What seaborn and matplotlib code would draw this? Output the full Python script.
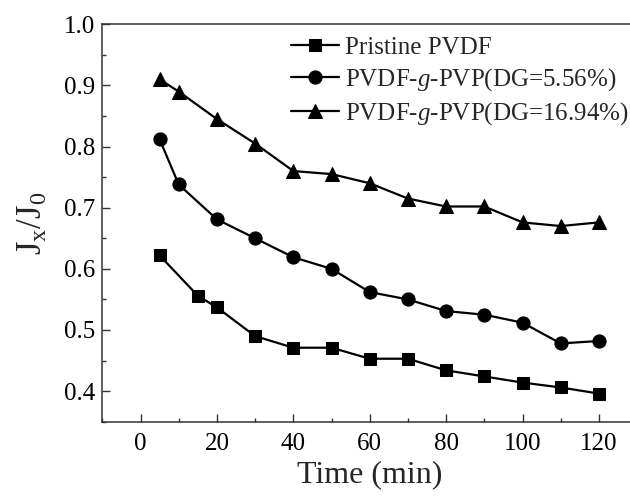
import matplotlib
matplotlib.use("Agg")
import matplotlib.pyplot as plt
import seaborn as sns
import pandas as pd
from matplotlib.ticker import MultipleLocator

# Data
time_pristine = [5, 15, 20, 30, 40, 50, 60, 70, 80, 90, 100, 110, 120]
jx_pristine = [0.622, 0.556, 0.537, 0.490, 0.471, 0.471, 0.453, 0.453, 0.434, 0.424, 0.414, 0.406, 0.396]
time_dg556 = [5, 10, 20, 30, 40, 50, 60, 70, 80, 90, 100, 110, 120]
jx_dg556 = [0.812, 0.738, 0.681, 0.650, 0.619, 0.600, 0.562, 0.550, 0.531, 0.525, 0.512, 0.478, 0.482]
time_dg1694 = [5, 10, 20, 30, 40, 50, 60, 70, 80, 90, 100, 110, 120]
jx_dg1694 = [0.910, 0.890, 0.845, 0.805, 0.760, 0.755, 0.740, 0.715, 0.702, 0.702, 0.676, 0.670, 0.676]
series_labels = ["Pristine PVDF", "PVDF-$g$-PVP(DG=5.56%)", "PVDF-$g$-PVP(DG=16.94%)"]

sns.set_theme(style="ticks")
plt.rcParams['font.family'] = ['Liberation Serif', 'DejaVu Serif']
plt.rcParams['mathtext.fontset'] = 'custom'
plt.rcParams['mathtext.rm'] = 'Liberation Serif'
plt.rcParams['mathtext.it'] = 'Liberation Serif:italic'

fig = plt.figure(figsize=(6.3, 4.98), dpi=100)
ax = fig.add_axes([102.3 / 630, 76.3 / 498, 534.8 / 630, 397.4 / 498])

specs = [
    (time_pristine, jx_pristine, 's', 8.6),
    (time_dg556, jx_dg556, 'o', 9.5),
    (time_dg1694, jx_dg1694, '^', 10),
]
for (t, v, m, ms), lab in zip(specs, series_labels):
    df = pd.DataFrame({"t": t, "v": v})
    sns.lineplot(data=df, x="t", y="v", ax=ax, color="black", marker=m,
                 markersize=ms, markeredgecolor="black", linewidth=1.6,
                 label=lab)

ax.set_xlim(-10, 130)
ax.set_ylim(0.35, 1.0)
ax.xaxis.set_major_locator(MultipleLocator(20))
ax.xaxis.set_minor_locator(MultipleLocator(10))
ax.yaxis.set_major_locator(MultipleLocator(0.1))
ax.yaxis.set_minor_locator(MultipleLocator(0.05))
ax.tick_params(which='both', direction='in', width=1.0, colors='#333333',
               labelcolor='black', labelsize=18)
ax.tick_params(which='major', length=5.5)
ax.tick_params(axis='y', which='major', pad=5)
ax.tick_params(axis='x', which='major', pad=8)
ax.tick_params(which='minor', length=3)
for s in ax.spines.values():
    s.set_linewidth(1.1)
    s.set_color('#333333')

ax.set_xlabel("Time (min)", fontsize=23, labelpad=4)
ax.set_ylabel(r"J$_\mathrm{x}$/J$_0$", fontsize=25, labelpad=10)

ax.legend(loc='upper left', bbox_to_anchor=(291 / 630, (498 - 36) / 498),
          bbox_transform=fig.transFigure, frameon=False, fontsize=18,
          handlelength=1.9, handletextpad=0.25, labelspacing=0.3,
          borderpad=0, borderaxespad=0)

fig.savefig("out.png", dpi=100)
